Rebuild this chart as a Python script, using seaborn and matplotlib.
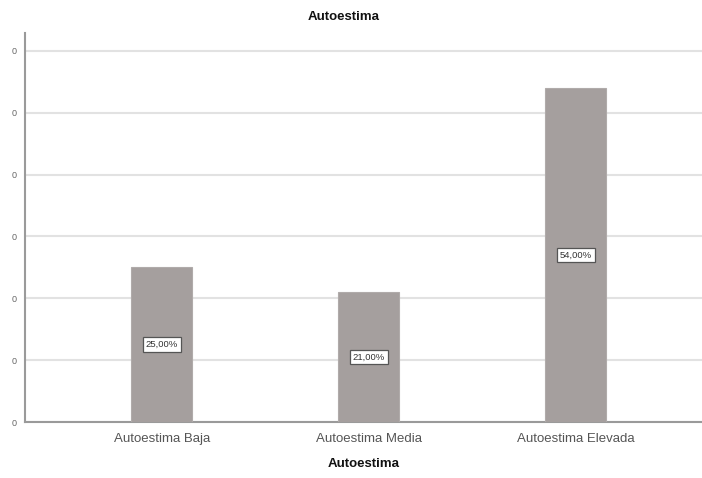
import matplotlib
matplotlib.use("Agg")
import matplotlib.pyplot as plt
import seaborn as sns
import pandas as pd

categories = ["Autoestima Baja", "Autoestima Media", "Autoestima Elevada"]
percentages = [25.0, 21.0, 54.0]
value_labels = ["25,00%", "21,00%", "54,00%"]
ytick_values = [0, 10, 20, 30, 40, 50, 60]
ytick_labels = ["0", "0", "0", "0", "0", "0", "0"]
title = "Autoestima"
xlabel = "Autoestima"

sns.set_theme(style="white")
plt.rcParams["font.family"] = ["Liberation Sans", "DejaVu Sans"]

df = pd.DataFrame({"cat": categories, "pct": percentages})

fig = plt.figure(figsize=(7.02, 4.78), dpi=100)
ax = fig.add_axes([25 / 702, (478 - 422) / 478, (702 - 25) / 702, (422 - 33) / 478])

sns.barplot(data=df, x="cat", y="pct", order=categories, color="#a59f9e",
            width=0.295, saturation=1, ax=ax, zorder=3,
            edgecolor="#b0abaa", linewidth=0.8)

ax.set_xlim(-0.66, 2.61)
ax.set_ylim(0, 62.9)
ax.set_yticks(ytick_values)
ax.set_yticklabels(ytick_labels, fontsize=6.5, color="#666666")
ax.yaxis.grid(True, color="#e2e2e2", linewidth=1.5, zorder=0)
ax.set_axisbelow(True)
ax.tick_params(axis="x", labelsize=9.5, colors="#555555", length=0, pad=8)
ax.tick_params(axis="y", length=0, pad=6)

for s in ["top", "right"]:
    ax.spines[s].set_visible(False)
for s in ["left", "bottom"]:
    ax.spines[s].set_color("#9a9a9a")
    ax.spines[s].set_linewidth(1.5)

for i, (v, lab) in enumerate(zip(percentages, value_labels)):
    ax.text(i, v / 2, lab, ha="center", va="center", fontsize=6.8, color="#333333",
            zorder=5,
            bbox=dict(boxstyle="square,pad=0.3", facecolor="white",
                      edgecolor="#555555", linewidth=0.9))

ax.set_xlabel(xlabel, fontsize=9.5, fontweight="bold", color="#111111", labelpad=9)
ax.set_ylabel("")
fig.text(344 / 702, 1 - 17 / 478, title, ha="center", va="center",
         fontsize=9.5, fontweight="bold", color="#111111")

fig.savefig("out.png", dpi=100)
